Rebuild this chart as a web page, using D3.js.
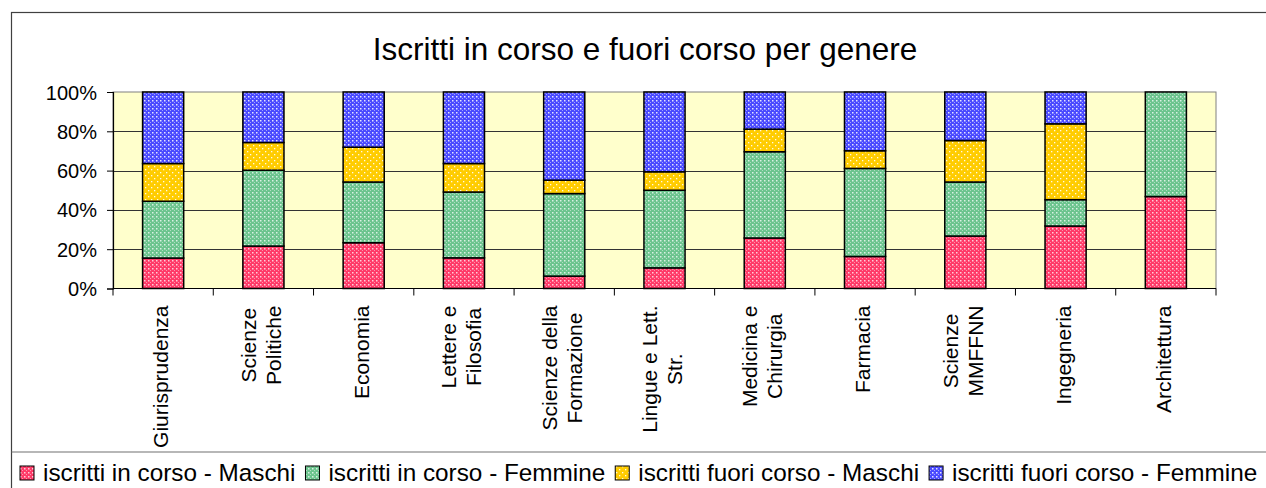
<!DOCTYPE html>
<html lang="it">
<head>
  <meta charset="UTF-8" />
  <title>Iscritti in corso e fuori corso per genere</title>
  <script src="https://d3js.org/d3.v7.min.js"></script>
  <style>
    html, body { margin: 0; padding: 0; background: #fff; }
    svg { display: block; font-family: "Liberation Sans", Arial, sans-serif; }
    .tick-y { font-size: 20px; text-anchor: end; }
    .tick-x { font-size: 21px; text-anchor: middle; }
    .legend-text { font-size: 24.3px; }
    .title { font-size: 31.5px; text-anchor: middle; }
  </style>
</head>
<body>
  <svg width="1266" height="488"></svg>
  <script>
    // facoltà (tick labels, "\n" = a capo)
    const facolta = [
      "Giurisprudenza", "Scienze\nPolitiche", "Economia", "Lettere e\nFilosofia",
      "Scienze della\nFormazione", "Lingue e Lett.\nStr.", "Medicina e\nChirurgia",
      "Farmacia", "Scienze\nMMFFNN", "Ingegneria", "Architettura"
    ];
    // quote percentuali
    const inCorsoMaschi   = [15.5, 21.6, 23.3, 15.6,  6.3, 10.5, 25.7, 16.3, 26.7, 31.8, 46.8];
    const inCorsoFemmine  = [28.9, 38.6, 30.9, 33.5, 42.0, 39.5, 43.9, 44.8, 27.5, 13.4, 53.2];
    const fuoriMaschi     = [19.2, 14.1, 17.7, 14.5,  6.8,  9.4, 11.5,  9.0, 21.1, 38.6,  0];
    const fuoriFemmine    = [36.4, 25.7, 28.1, 36.4, 44.9, 40.6, 18.9, 29.9, 24.7, 16.2,  0];
    const serie = [
      "iscritti in corso - Maschi", "iscritti in corso - Femmine",
      "iscritti fuori corso - Maschi", "iscritti fuori corso - Femmine"
    ];
    const yTicks = [0, 0.2, 0.4, 0.6, 0.8, 1];

    const svg = d3.select("svg");
    const pLeft = 113, pRight = 1216, pTop = 92, pBottom = 288.5;

    // pattern fills (stile Excel)
    const defs = svg.append("defs");
    function dotPattern(id, base, size, dots) {
      const p = defs.append("pattern").attr("id", id)
        .attr("patternUnits", "userSpaceOnUse")
        .attr("width", size).attr("height", size);
      p.append("rect").attr("width", size).attr("height", size).attr("fill", base);
      dots.forEach(d => p.append("rect")
        .attr("x", d[0]).attr("y", d[1]).attr("width", d[2]).attr("height", d[2])
        .attr("fill", "#fff").attr("fill-opacity", d[3]));
    }
    dotPattern("pRed", "#ff3a68", 4, [[0, 0, 1.5, 0.75], [2, 2, 1, 0.45]]);
    dotPattern("pGreen", "#6cc48e", 4, [[0, 0, 1.5, 0.75], [2, 2, 1, 0.45]]);
    dotPattern("pYellow", "#ffcc00", 6, [[1, 1, 1.3, 0.9], [4, 4, 1.3, 0.9]]);
    dotPattern("pBlue", "#4a4aff", 4, [[0, 0, 1.5, 0.85], [2, 2, 1, 0.5]]);
    const fills = ["url(#pRed)", "url(#pGreen)", "url(#pYellow)", "url(#pBlue)"];

    // cornice esterna e separatore legenda
    svg.append("rect").attr("x", 11.5).attr("y", 12.5)
      .attr("width", 1270).attr("height", 500)
      .attr("fill", "none").attr("stroke", "#404040").attr("stroke-width", 1.2);
    svg.append("line").attr("x1", 11.5).attr("x2", 1266)
      .attr("y1", 452).attr("y2", 452)
      .attr("stroke", "#707070").attr("stroke-width", 1.2);

    svg.append("text").attr("class", "title")
      .attr("x", 645).attr("y", 60)
      .text("Iscritti in corso e fuori corso per genere");

    const x = d3.scaleBand().domain(facolta).range([pLeft, pRight]);
    const y = d3.scaleLinear().domain([0, 1]).range([pBottom, pTop]);

    // area del grafico
    svg.append("rect").attr("x", pLeft).attr("y", pTop)
      .attr("width", pRight - pLeft).attr("height", pBottom - pTop)
      .attr("fill", "#ffffcc").attr("stroke", "#808080").attr("stroke-width", 1);

    svg.append("g").selectAll("line")
      .data(yTicks.slice(1, -1))
      .join("line")
      .attr("x1", pLeft).attr("x2", pRight)
      .attr("y1", d => Math.round(y(d)) + 0.5).attr("y2", d => Math.round(y(d)) + 0.5)
      .attr("stroke", "#333");

    // barre impilate
    const rows = facolta.map((f, i) => ({
      f, [serie[0]]: inCorsoMaschi[i], [serie[1]]: inCorsoFemmine[i],
      [serie[2]]: fuoriMaschi[i], [serie[3]]: fuoriFemmine[i]
    }));
    const stacked = d3.stack().keys(serie).offset(d3.stackOffsetExpand)(rows);
    const barW = x.bandwidth() * 0.41;

    svg.append("g").selectAll("g")
      .data(stacked)
      .join("g")
      .attr("fill", (d, i) => fills[i])
      .selectAll("rect")
      .data(d => d.filter(s => s[1] - s[0] > 0))
      .join("rect")
      .attr("x", d => x(d.data.f) + (x.bandwidth() - barW) / 2)
      .attr("y", d => y(d[1]))
      .attr("width", barW)
      .attr("height", d => y(d[0]) - y(d[1]))
      .attr("stroke", "#000").attr("stroke-width", 1.5);

    // assi
    const yAxis = svg.append("g").attr("transform", `translate(${pLeft},0)`)
      .call(d3.axisLeft(y).tickValues(yTicks).tickFormat(d3.format(".0%")).tickSize(6));
    yAxis.attr("font-size", null).attr("font-family", null);
    yAxis.selectAll("text").attr("class", "tick-y")
      .attr("fill", "#000").attr("x", -16).attr("dy", "0.35em");
    yAxis.selectAll("line,path").attr("stroke", "#000");
    yAxis.select(".domain").attr("stroke-width", 1.2);

    const xTicks = facolta.map(f => x(f)).concat([pRight]);
    svg.append("line").attr("x1", pLeft).attr("x2", pRight)
      .attr("y1", pBottom).attr("y2", pBottom).attr("stroke", "#000").attr("stroke-width", 1.2);
    svg.append("g").selectAll("line")
      .data(xTicks)
      .join("line")
      .attr("x1", d => d).attr("x2", d => d)
      .attr("y1", pBottom).attr("y2", pBottom + 7)
      .attr("stroke", "#000");

    // etichette ruotate
    const lineH = 25;
    const labels = svg.append("g").selectAll("g")
      .data(facolta)
      .join("g");
    labels.each(function (f) {
      const g = d3.select(this);
      const lines = f.split("\n");
      const t = g.append("text").attr("class", "tick-x");
      lines.forEach((l, i) => t.append("tspan")
        .attr("x", 0).attr("y", (i - (lines.length - 1) / 2) * lineH + 7)
        .text(l));
      const w = d3.max(t.selectAll("tspan").nodes(), n => n.getComputedTextLength());
      g.attr("transform", `translate(${x(f) + x.bandwidth() / 2 - 2},${pBottom + 17 + w / 2}) rotate(-90)`);
    });

    // legenda
    const legend = svg.append("g");
    let lx = 20;
    serie.forEach((s, i) => {
      legend.append("rect").attr("x", lx).attr("y", 466)
        .attr("width", 14).attr("height", 14)
        .attr("fill", fills[i]).attr("stroke", "#000").attr("stroke-width", 1);
      const t = legend.append("text").attr("class", "legend-text")
        .attr("x", lx + 23).attr("y", 481).text(s);
      lx += 23 + t.node().getComputedTextLength() + 10;
    });
  </script>
</body>
</html>
